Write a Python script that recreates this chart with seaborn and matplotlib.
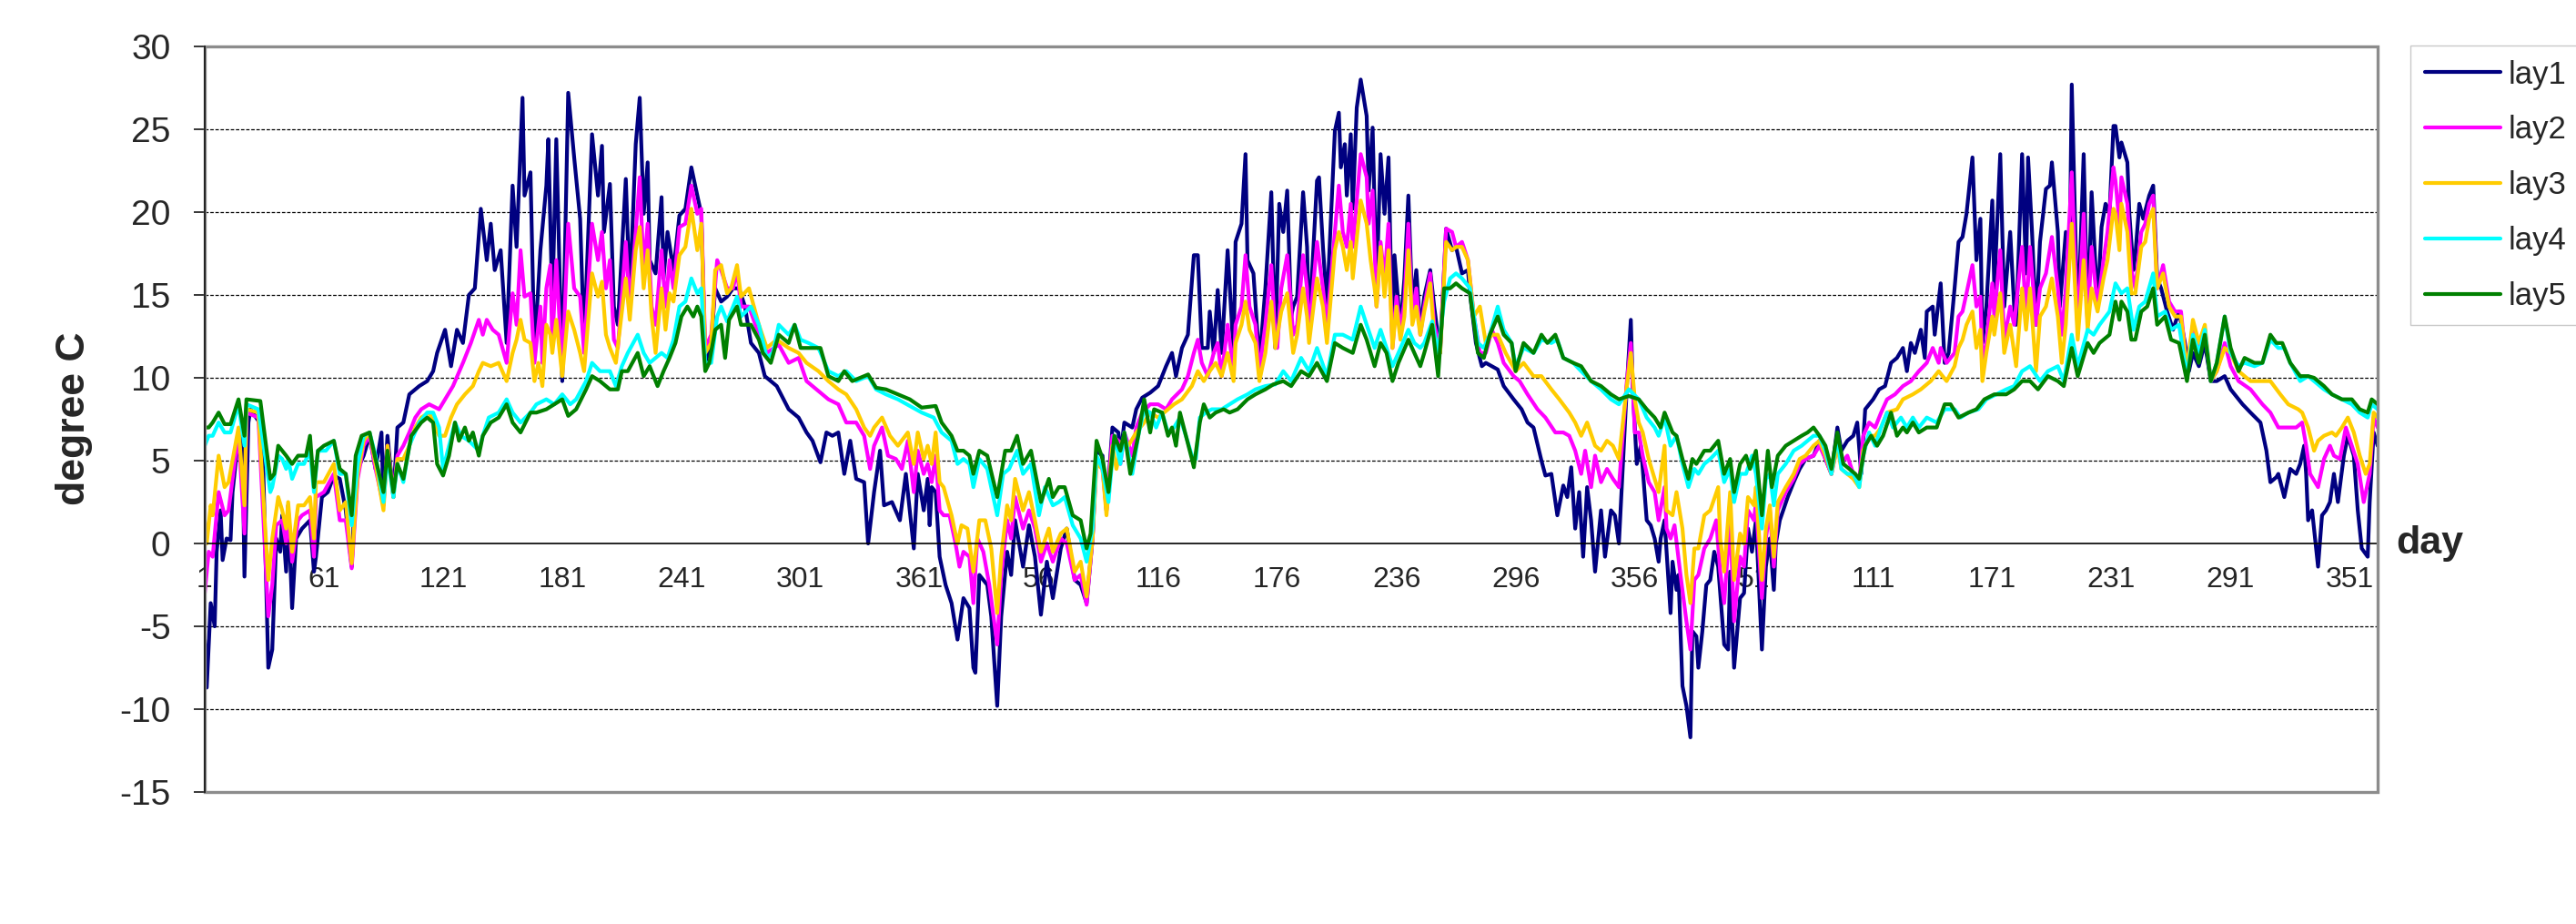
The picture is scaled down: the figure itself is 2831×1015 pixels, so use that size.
import numpy as np
import pandas as pd
import matplotlib
matplotlib.use("Agg")
import matplotlib.pyplot as plt
from matplotlib.patches import Rectangle
import seaborn as sns

# day index (1..1095, three years) and temperature at turning points
lay1_pts = [(1,-5.8),(2,-8.7),(4,-3.6),(6,-5.0),(7,-0.5),(9,2.0),(10,-1.0),(12,0.3),(14,0.2),(15,3.1),(18,6.5),(20,6.2),(21,-2.0),(23,7.3),(24,8.1),(28,7.4),(30,6.7),(33,-7.5),(35,-6.4),(37,0.3),(39,-0.5),(40,1.7),(42,-1.7),(43,2.3),(45,-3.9),(47,0.3),(50,0.9),(54,1.4),(56,-1.7),(57,-0.8),(60,2.8),(63,3.1),(66,4.1),(69,3.9),(72,2.0),(75,-1.4),(77,4.2),(81,5.3),(84,6.5),(87,4.5),(90,6.7),(91,2.5),(93,6.5),(96,2.8),(98,7.0),(101,7.3),(104,9.0),(109,9.5),(113,9.8),(116,10.4),(118,11.5),(122,12.9),(125,10.7),(128,12.9),(131,12.1),(134,15.0),(137,15.4),(140,20.2),(143,17.1),(145,19.3),(147,16.5),(150,17.7),(153,12.1),(156,21.6),(158,17.9),(161,26.9),(162,21.0),(165,22.4),(167,11.5),(170,17.7),(173,21.6),(174,24.4),(176,14.3),(178,24.4),(181,9.8),(184,27.2),(187,23.3),(190,19.6),(192,12.1),(196,24.7),(199,21.0),(201,24.0),(202,18.8),(205,21.7),(207,14.3),(209,13.2),(213,22.0),(215,14.9),(218,24.1),(220,26.9),(222,19.9),(224,23.0),(225,17.1),(228,16.3),(231,20.9),(232,16.0),(234,18.8),(237,16.5),(240,19.8),(243,20.2),(246,22.7),(249,21.0),(251,19.9),(253,10.9),(256,12.1),(258,15.4),(261,14.6),(264,14.9),(267,15.4),(270,15.4),(273,14.3),(276,12.1),(280,11.5),(283,10.1),(289,9.5),(295,8.1),(300,7.6),(304,6.7),(307,6.2),(311,4.9),(314,6.7),(317,6.5),(320,6.7),(323,4.2),(326,6.2),(329,3.9),(333,3.7),(335,0.0),(338,3.1),(341,5.6),(343,2.3),(347,2.5),(351,1.4),(354,4.2),(358,-0.3),(360,4.2),(363,2.0),(365,3.9),(366,1.1),(367,3.4),(369,3.1),(371,-0.8),(374,-2.5),(377,-3.6),(380,-5.8),(383,-3.3),(386,-3.9),(388,-7.5),(389,-7.8),(391,-1.9),(395,-2.5),(397,-4.4),(400,-9.8),(402,-4.4),(405,-0.5),(407,-1.9),(409,1.4),(413,-1.4),(416,1.1),(419,-0.8),(422,-4.3),(425,-1.1),(428,-3.3),(432,-0.3),(435,0.9),(439,-2.2),(442,-2.5),(445,-3.6),(448,0.3),(450,5.6),(453,5.3),(455,2.0),(458,7.0),(461,6.7),(462,5.3),(464,7.3),(468,7.0),(470,8.1),(473,8.8),(477,9.1),(481,9.5),(485,10.7),(488,11.5),(490,10.1),(493,11.8),(496,12.6),(499,17.4),(501,17.4),(503,11.8),(506,11.8),(507,14.0),(509,11.5),(511,15.3),(513,11.5),(516,17.7),(519,11.5),(520,18.2),(523,19.3),(525,23.5),(526,17.1),(529,16.3),(532,10.9),(535,15.4),(538,21.2),(540,11.8),(542,20.5),(544,18.8),(546,21.3),(548,13.7),(549,14.3),(551,14.9),(554,21.2),(556,17.9),(557,12.9),(561,21.9),(562,22.1),(564,17.9),(566,14.3),(570,24.9),(572,26.0),(573,22.7),(575,24.1),(576,21.0),(578,24.7),(579,20.2),(581,26.3),(583,28.0),(586,25.8),(587,21.3),(589,25.1),(591,15.4),(593,23.5),(595,19.9),(597,23.3),(599,12.1),(600,17.4),(603,12.9),(605,16.0),(607,21.0),(609,14.3),(611,16.5),(613,12.9),(615,14.9),(618,16.5),(620,14.3),(623,11.5),(626,19.0),(629,17.7),(631,17.9),(634,16.3),(637,16.5),(638,15.1),(641,12.1),(644,10.7),(646,10.9),(649,10.7),(652,10.5),(655,9.5),(660,8.7),(664,8.1),(667,7.3),(670,7.0),(674,5.0),(676,4.1),(679,4.2),(682,1.7),(685,3.5),(687,2.8),(689,4.6),(691,0.9),(693,3.1),(695,-0.8),(697,3.4),(699,1.4),(701,-1.7),(704,2.0),(706,-0.8),(709,2.0),(711,1.7),(713,0.0),(717,9.5),(719,13.5),(720,9.3),(722,4.8),(724,5.9),(725,4.5),(727,1.4),(729,1.1),(731,0.3),(733,-1.1),(734,0.3),(736,1.4),(737,-0.5),(739,-4.2),(740,-1.1),(742,-2.8),(743,-1.9),(745,-8.6),(747,-9.8),(749,-11.7),(750,-5.3),(752,-5.6),(753,-7.5),(755,-5.3),(757,-2.5),(759,-2.2),(761,-0.5),(763,-1.4),(766,-6.1),(768,-6.4),(769,-1.7),(771,-7.5),(774,-3.3),(776,-3.0),(778,0.9),(780,-0.5),(782,1.4),(785,-6.4),(787,-1.4),(789,0.3),(791,-2.8),(792,0.0),(794,1.4),(798,2.8),(801,3.7),(804,4.5),(807,5.1),(811,5.3),(814,6.2),(817,5.1),(820,4.2),(823,7.0),(825,5.6),(828,6.2),(831,6.5),(833,7.3),(835,4.2),(837,8.1),(841,8.7),(844,9.3),(847,9.5),(850,10.9),(853,11.2),(856,11.8),(858,10.4),(860,12.1),(862,11.5),(865,12.9),(867,11.2),(868,14.0),(871,14.3),(872,12.6),(875,15.7),(877,10.9),(879,11.5),(882,15.4),(884,18.2),(886,18.5),(888,19.9),(891,23.3),(893,17.1),(895,19.6),(896,12.1),(898,14.3),(901,20.7),(902,15.4),(905,23.5),(907,14.3),(910,18.8),(912,14.3),(913,13.2),(916,23.5),(918,16.3),(919,23.3),(921,18.8),(923,13.2),(925,18.2),(928,21.4),(930,21.6),(931,23.0),(934,18.8),(935,14.3),(938,18.8),(940,17.7),(941,27.7),(944,12.9),(947,23.5),(949,13.2),(951,21.2),(954,14.3),(956,19.1),(958,20.5),(960,19.9),(962,25.2),(963,25.2),(965,23.3),(966,24.2),(969,23.0),(970,19.9),(972,16.5),(973,17.4),(975,20.5),(977,19.6),(980,21.0),(982,21.6),(984,16.0),(986,15.4),(989,14.0),(992,12.9),(995,14.0),(998,12.1),(1000,10.4),(1002,11.5),(1005,10.7),(1008,12.1),(1011,9.8),(1014,9.8),(1018,10.1),(1021,9.3),(1027,8.4),(1031,7.9),(1036,7.3),(1039,5.6),(1041,3.7),(1044,4.0),(1045,4.2),(1048,2.8),(1051,4.5),(1054,4.2),(1056,4.8),(1058,5.9),(1059,4.2),(1060,1.4),(1062,2.0),(1065,-1.4),(1067,1.7),(1069,2.0),(1071,2.5),(1073,4.2),(1075,2.5),(1078,5.3),(1080,6.5),(1083,5.3),(1085,2.0),(1087,-0.3),(1090,-0.8),(1091,2.5),(1093,6.7),(1095,5.9)]

lay2_pts = [(1,-3.0),(3,-0.5),(5,-0.8),(8,3.1),(11,1.7),(13,2.0),(18,6.7),(21,0.6),(22,7.9),(28,7.6),(33,-4.4),(35,-2.5),(37,1.1),(40,1.4),(42,0.0),(43,2.0),(45,-1.1),(48,1.4),(50,1.7),(54,2.0),(56,-0.8),(57,2.8),(61,3.1),(66,4.2),(69,1.4),(72,1.4),(75,-1.5),(78,3.9),(81,5.9),(84,6.5),(87,4.5),(91,2.3),(93,5.9),(96,3.1),(98,5.3),(101,5.9),(104,6.7),(107,7.6),(110,8.1),(114,8.4),(119,8.1),(122,8.7),(126,9.5),(131,10.9),(135,12.1),(139,13.5),(141,12.6),(143,13.5),(146,12.9),(149,12.6),(153,10.9),(156,15.1),(158,13.2),(160,17.7),(162,14.9),(165,15.1),(167,10.9),(170,14.3),(171,10.9),(173,15.4),(175,16.8),(176,12.0),(178,17.1),(181,10.4),(184,19.3),(187,15.4),(190,14.9),(192,11.5),(196,19.3),(199,17.1),(201,18.8),(203,15.4),(205,17.1),(207,12.3),(209,11.8),(213,18.2),(215,14.3),(218,18.8),(220,22.1),(222,16.5),(224,19.3),(226,14.3),(228,13.2),(231,17.7),(233,14.3),(235,17.1),(237,15.4),(240,19.1),(243,19.3),(246,21.6),(249,19.9),(251,20.2),(253,11.8),(256,12.6),(259,17.1),(261,16.5),(264,15.4),(267,15.4),(269,16.5),(271,14.3),(275,14.3),(280,12.6),(284,11.5),(290,12.0),(295,10.9),(300,11.2),(304,9.8),(309,9.3),(315,8.7),(320,8.4),(324,7.3),(329,7.3),(333,6.5),(336,4.5),(338,5.9),(342,7.0),(345,5.3),(349,5.1),(352,4.5),(355,6.2),(358,3.1),(360,5.6),(363,4.2),(365,4.8),(367,3.7),(369,5.3),(371,2.0),(373,1.7),(376,1.7),(379,0.0),(381,-1.4),(383,-0.5),(386,-0.8),(388,-3.6),(390,0.3),(393,-0.5),(396,-2.5),(400,-6.1),(402,-1.9),(405,1.4),(407,0.3),(409,2.8),(413,0.9),(416,2.0),(419,0.9),(422,-1.1),(425,0.0),(428,-1.1),(432,0.3),(435,0.0),(439,-2.2),(442,-1.9),(445,-3.7),(448,0.3),(450,5.1),(453,4.5),(455,2.0),(458,6.5),(461,6.2),(462,4.8),(464,6.7),(468,5.3),(470,7.0),(473,7.9),(477,8.4),(481,8.4),(485,8.1),(488,8.7),(493,9.3),(496,10.1),(499,11.5),(501,12.3),(503,10.9),(506,10.1),(509,11.5),(511,12.1),(513,10.1),(516,13.2),(519,10.4),(520,13.2),(523,14.3),(525,17.4),(527,14.3),(530,13.2),(532,10.4),(535,13.2),(538,16.8),(540,12.6),(541,11.8),(543,15.4),(546,17.4),(549,12.6),(551,13.2),(554,17.4),(556,15.4),(557,12.6),(561,18.2),(564,15.4),(566,13.2),(570,18.8),(572,21.6),(574,18.8),(576,17.9),(578,20.5),(579,17.9),(583,23.5),(586,22.1),(587,19.3),(589,21.3),(591,14.3),(593,18.2),(595,16.0),(597,19.3),(599,11.8),(601,14.9),(603,12.9),(605,14.6),(607,19.3),(609,13.7),(611,15.4),(613,12.6),(615,14.3),(618,16.3),(620,13.2),(623,11.8),(626,19.0),(629,18.8),(631,17.9),(634,18.2),(637,17.1),(640,13.7),(643,11.5),(646,11.5),(649,12.9),(652,12.1),(655,10.9),(660,10.1),(663,9.8),(667,9.0),(672,8.1),(676,7.6),(681,6.7),(685,6.7),(688,6.5),(691,5.6),(694,4.2),(696,5.6),(699,3.4),(701,5.3),(704,3.7),(707,4.5),(710,3.9),(713,3.4),(717,9.8),(719,12.1),(721,6.7),(723,6.7),(725,5.3),(728,3.7),(731,3.1),(733,1.4),(736,3.4),(737,0.9),(739,0.3),(741,1.1),(744,-1.9),(747,-4.7),(749,-6.4),(751,-2.2),(753,-1.9),(756,-0.3),(759,0.3),(762,1.4),(764,-1.7),(766,-3.6),(769,1.4),(771,-4.7),(774,-0.8),(776,-1.4),(778,2.0),(781,1.4),(782,2.5),(785,-3.3),(787,0.3),(789,2.0),(791,-1.4),(793,2.0),(797,3.1),(801,3.9),(804,4.8),(807,5.1),(811,5.3),(814,5.9),(817,5.1),(820,4.2),(823,5.9),(825,4.8),(828,5.3),(831,4.2),(834,3.7),(836,6.5),(839,7.3),(842,7.0),(845,7.9),(848,8.7),(852,9.0),(856,9.5),(860,9.8),(864,10.4),(868,10.9),(871,11.8),(874,10.9),(875,11.8),(878,10.9),(882,11.5),(884,13.7),(886,14.0),(888,15.1),(891,16.8),(893,14.3),(895,14.9),(896,10.9),(898,12.1),(901,15.7),(902,13.7),(905,17.7),(907,12.3),(910,14.3),(912,13.2),(916,17.9),(918,13.7),(920,17.9),(923,13.2),(925,15.4),(928,16.3),(931,18.5),(934,15.4),(936,12.6),(938,15.4),(941,22.4),(944,12.9),(947,19.9),(949,13.2),(951,17.9),(954,14.3),(957,17.1),(959,18.8),(962,22.7),(963,21.9),(965,19.3),(966,22.1),(969,20.5),(971,16.5),(973,15.4),(976,18.8),(978,19.3),(980,20.5),(982,21.0),(984,15.4),(987,16.8),(990,14.6),(993,14.0),(996,14.0),(999,10.4),(1002,13.2),(1005,11.5),(1008,12.9),(1011,9.8),(1014,10.4),(1018,12.1),(1021,10.7),(1025,9.8),(1031,9.3),(1037,8.4),(1041,7.9),(1045,7.0),(1049,7.0),(1054,7.0),(1057,7.3),(1059,5.9),(1061,4.2),(1065,3.4),(1068,5.1),(1071,5.9),(1073,5.3),(1076,5.1),(1079,7.0),(1082,5.9),(1085,4.8),(1088,2.5),(1091,4.2),(1093,7.6),(1095,7.0)]

lay3_pts = [(1,1.4),(2,0.0),(4,2.3),(5,1.7),(8,5.3),(11,3.4),(13,3.7),(18,7.0),(21,2.3),(22,8.1),(28,7.9),(33,-2.2),(35,0.3),(38,2.8),(40,2.0),(42,0.9),(43,2.5),(45,-0.5),(48,2.3),(51,2.3),(54,2.8),(56,0.3),(57,3.7),(61,3.7),(66,4.8),(69,2.0),(72,2.5),(75,-1.2),(78,4.2),(81,6.2),(84,6.7),(87,4.8),(91,2.0),(93,5.9),(96,2.8),(98,5.1),(101,5.1),(104,5.9),(107,7.0),(110,7.6),(114,7.9),(119,6.5),(122,6.5),(125,7.6),(128,8.4),(132,9.0),(136,9.5),(139,10.4),(141,10.9),(145,10.7),(149,10.9),(153,9.8),(156,11.5),(158,12.3),(160,13.5),(162,12.3),(165,12.1),(167,9.8),(169,10.9),(171,9.5),(173,13.2),(175,12.6),(176,11.5),(178,13.5),(181,10.1),(184,14.0),(187,12.9),(190,11.5),(192,10.4),(196,16.3),(199,14.9),(201,15.8),(203,12.6),(205,11.8),(208,10.9),(213,16.0),(215,13.5),(218,17.7),(220,19.1),(222,15.4),(224,17.7),(226,13.7),(228,11.5),(231,15.4),(233,12.9),(235,15.1),(237,14.6),(240,17.4),(243,17.9),(246,20.2),(249,17.7),(251,19.3),(253,11.5),(256,12.1),(258,16.5),(261,16.8),(264,15.1),(266,15.4),(269,16.8),(271,14.9),(275,15.4),(280,13.2),(284,11.8),(289,12.3),(295,11.8),(300,11.5),(304,10.9),(310,10.4),(315,9.8),(320,9.3),(324,9.0),(329,8.1),(333,7.0),(336,6.5),(338,7.0),(342,7.6),(346,6.5),(350,5.9),(355,6.7),(358,4.8),(360,6.7),(363,5.1),(365,5.9),(367,4.8),(369,6.7),(371,3.7),(373,3.4),(377,1.7),(380,0.0),(382,1.1),(385,0.9),(388,-1.7),(391,1.4),(394,1.4),(397,-0.3),(400,-4.2),(402,-0.8),(405,2.3),(407,1.4),(409,3.9),(413,2.0),(416,3.1),(419,1.4),(422,-0.5),(426,0.9),(428,-0.5),(432,0.6),(435,0.9),(439,-1.7),(442,-1.1),(445,-3.2),(448,0.3),(450,4.8),(453,4.5),(455,1.7),(458,5.9),(460,4.5),(463,6.2),(466,5.9),(470,6.7),(474,7.3),(477,7.9),(481,7.6),(486,8.1),(489,8.4),(493,8.7),(498,9.5),(501,10.4),(504,9.8),(507,10.4),(510,10.9),(513,10.1),(516,11.5),(519,9.8),(520,12.1),(523,13.2),(525,14.6),(527,12.9),(530,12.1),(532,9.8),(535,11.5),(538,14.6),(540,11.8),(543,14.0),(546,15.1),(549,11.5),(551,12.6),(554,15.4),(556,13.7),(557,12.1),(561,16.0),(564,14.3),(566,12.1),(570,17.7),(572,18.8),(574,17.9),(576,16.5),(578,18.2),(579,16.0),(583,20.7),(586,19.3),(588,17.1),(590,15.4),(591,14.3),(593,17.9),(595,14.9),(597,17.7),(599,11.8),(601,14.3),(603,12.3),(605,13.7),(607,17.7),(609,13.2),(611,14.3),(613,12.6),(615,14.0),(618,15.7),(620,12.6),(623,11.5),(626,18.2),(629,17.7),(631,17.9),(634,17.9),(637,17.1),(640,13.7),(643,14.3),(646,12.1),(649,12.6),(652,12.6),(656,11.5),(661,10.4),(665,10.9),(670,10.1),(674,10.1),(679,9.3),(683,8.7),(688,7.9),(691,7.3),(694,6.5),(697,7.3),(701,5.9),(704,5.6),(707,6.2),(710,5.9),(713,5.1),(717,9.5),(719,11.5),(721,8.7),(723,7.3),(725,6.7),(728,5.1),(731,3.9),(733,3.1),(736,5.9),(737,2.0),(740,1.7),(742,3.1),(745,0.9),(747,-1.9),(749,-3.6),(751,-0.3),(753,-0.3),(756,1.7),(759,2.0),(763,3.4),(764,0.3),(766,-1.7),(769,3.1),(771,-2.2),(774,0.6),(776,0.0),(778,2.8),(781,2.3),(782,3.4),(785,-2.2),(787,0.9),(789,2.3),(791,-0.8),(793,2.5),(797,3.4),(801,4.2),(804,5.1),(807,5.3),(811,5.9),(814,6.2),(817,5.3),(820,4.2),(823,5.9),(825,4.5),(828,4.2),(831,3.9),(834,3.4),(836,5.6),(839,6.5),(842,6.5),(845,7.0),(848,7.9),(853,8.1),(856,8.7),(861,9.0),(865,9.3),(870,9.8),(874,10.4),(878,9.8),(882,10.7),(884,11.8),(886,12.3),(888,13.2),(891,14.0),(893,11.8),(895,12.9),(896,9.8),(898,11.5),(901,13.7),(902,12.6),(905,15.1),(907,11.5),(910,13.2),(913,10.7),(916,15.4),(918,12.9),(920,15.4),(923,10.4),(925,13.7),(928,14.3),(931,16.0),(934,13.7),(936,10.9),(938,13.2),(941,19.3),(944,12.3),(947,17.1),(949,12.9),(951,15.4),(954,14.0),(957,16.0),(959,17.1),(962,20.2),(963,19.9),(965,17.7),(966,20.5),(969,18.8),(971,15.1),(973,15.1),(976,17.9),(978,18.2),(980,19.6),(982,20.2),(984,15.4),(987,16.3),(990,14.3),(993,13.7),(996,13.7),(999,10.4),(1002,13.5),(1005,12.1),(1008,13.2),(1011,9.8),(1014,10.4),(1018,11.8),(1021,11.5),(1025,10.4),(1031,9.8),(1037,9.8),(1041,9.8),(1046,9.0),(1050,8.4),(1055,8.1),(1057,7.9),(1060,7.0),(1063,5.6),(1065,6.2),(1068,6.5),(1072,6.7),(1074,6.5),(1077,7.0),(1080,7.6),(1083,6.7),(1086,5.3),(1089,4.2),(1091,4.8),(1093,7.9),(1095,7.6)]

lay4_pts = [(1,5.9),(3,6.5),(5,6.5),(8,7.3),(11,6.7),(14,6.7),(18,8.4),(21,5.9),(22,8.4),(28,8.1),(34,3.1),(35,3.4),(38,5.3),(40,5.1),(42,4.5),(43,5.1),(45,3.9),(48,4.8),(51,4.8),(54,5.6),(56,3.1),(58,5.6),(62,5.6),(66,6.2),(69,4.2),(72,4.2),(75,1.1),(78,4.8),(81,6.5),(84,6.7),(87,5.3),(91,2.5),(93,5.3),(96,2.8),(98,4.8),(101,3.7),(104,5.9),(109,7.3),(113,7.9),(116,7.9),(119,7.0),(121,4.5),(124,5.9),(127,7.3),(130,6.5),(134,6.2),(139,5.6),(141,6.5),(144,7.6),(149,7.9),(153,8.7),(156,7.9),(160,7.3),(165,7.9),(168,8.4),(173,8.7),(177,8.4),(181,9.0),(185,8.4),(188,8.7),(193,9.8),(196,10.9),(200,10.4),(205,10.4),(208,9.5),(211,10.7),(214,11.5),(219,12.6),(222,11.5),(225,10.9),(228,11.2),(231,11.5),(234,11.2),(237,12.3),(240,14.3),(243,14.6),(246,16.0),(249,15.1),(251,15.4),(253,10.9),(256,10.9),(259,13.7),(261,14.3),(264,13.4),(267,14.3),(269,14.9),(271,13.7),(276,14.3),(280,13.2),(284,11.2),(287,11.5),(290,13.2),(295,12.6),(298,13.2),(301,12.3),(305,12.1),(310,11.8),(315,10.4),(320,10.1),(324,10.4),(329,9.8),(335,10.1),(339,9.3),(344,9.0),(350,8.7),(356,8.3),(362,7.9),(368,7.6),(372,6.7),(377,6.2),(380,4.8),(383,5.1),(386,4.8),(388,3.4),(391,5.1),(395,4.5),(400,1.7),(403,4.2),(406,4.5),(410,5.6),(413,4.2),(417,4.8),(421,1.7),(424,3.4),(428,2.3),(431,2.5),(434,2.8),(438,1.1),(442,0.3),(445,-1.1),(448,0.9),(450,5.3),(453,4.5),(456,2.5),(459,6.5),(462,4.8),(464,6.7),(468,4.2),(471,6.5),(474,8.1),(477,7.9),(480,7.0),(483,7.9),(486,6.7),(489,7.0),(492,7.6),(495,6.5),(498,5.3),(500,5.1),(502,7.6),(505,7.9),(508,8.1),(513,8.1),(517,8.4),(521,8.7),(526,9.0),(530,9.3),(535,9.5),(540,9.6),(544,10.4),(548,9.8),(553,11.2),(557,10.4),(561,11.8),(566,10.1),(570,12.6),(574,12.6),(579,12.3),(583,14.3),(586,13.2),(590,11.8),(593,12.9),(596,11.8),(599,10.7),(602,11.5),(607,12.9),(610,12.1),(613,11.8),(615,12.1),(619,13.4),(622,11.5),(625,14.6),(628,16.0),(631,16.3),(634,16.0),(638,15.4),(642,12.1),(645,11.8),(648,12.6),(652,14.3),(655,12.9),(659,12.1),(661,10.7),(665,11.8),(670,11.5),(674,12.3),(679,12.1),(682,12.3),(685,11.2),(690,10.9),(694,10.4),(699,9.8),(704,9.3),(709,8.7),(713,8.4),(718,9.3),(723,8.7),(727,7.6),(731,7.0),(733,6.5),(736,7.6),(739,5.9),(742,6.5),(745,4.8),(748,3.4),(751,4.5),(753,4.2),(756,4.8),(759,5.1),(763,5.6),(766,3.7),(769,4.5),(771,2.5),(774,4.2),(777,4.2),(780,5.3),(782,4.2),(785,0.9),(787,3.9),(789,4.2),(791,2.3),(793,4.2),(797,4.8),(801,5.6),(805,5.9),(808,6.2),(811,6.5),(814,6.5),(817,5.6),(820,4.2),(823,6.5),(825,4.5),(828,4.2),(831,4.2),(834,3.4),(836,5.3),(839,6.7),(842,5.9),(845,7.0),(848,7.9),(851,7.0),(855,7.6),(858,7.0),(861,7.6),(864,7.0),(868,7.6),(873,7.3),(877,8.1),(882,8.1),(885,7.6),(889,7.9),(894,8.1),(898,8.7),(903,9.0),(908,9.3),(912,9.5),(916,10.4),(920,10.7),(925,9.8),(929,10.4),(934,10.7),(937,9.8),(941,12.6),(944,10.7),(949,12.9),(952,12.6),(955,13.2),(960,14.0),(963,15.7),(966,15.1),(969,15.4),(972,12.9),(975,14.3),(978,14.6),(982,16.3),(984,13.7),(988,14.0),(991,12.9),(995,13.2),(999,10.1),(1002,12.6),(1005,11.5),(1008,12.9),(1011,9.8),(1014,10.9),(1018,13.7),(1021,11.5),(1025,10.7),(1028,10.9),(1033,10.7),(1037,10.9),(1041,12.3),(1045,11.8),(1048,11.8),(1051,10.9),(1056,9.8),(1060,10.1),(1063,9.8),(1068,9.3),(1072,9.0),(1077,8.7),(1082,8.4),(1086,7.9),(1090,7.6),(1092,8.4),(1095,8.1)]

lay5_pts = [(1,7.0),(3,7.0),(5,7.3),(8,7.9),(11,7.2),(14,7.2),(18,8.7),(21,6.5),(22,8.7),(29,8.6),(34,3.9),(36,4.2),(38,5.9),(40,5.6),(42,5.3),(45,4.8),(48,5.3),(52,5.3),(54,6.5),(56,3.4),(58,5.6),(61,5.9),(66,6.2),(69,4.5),(72,4.2),(75,1.7),(77,5.3),(80,6.5),(84,6.7),(87,5.1),(91,3.1),(93,5.6),(96,3.1),(98,4.8),(101,3.9),(105,6.5),(110,7.3),(113,7.6),(116,7.3),(118,4.8),(121,4.1),(124,5.3),(127,7.3),(129,6.2),(132,7.0),(134,6.2),(136,6.7),(139,5.3),(141,6.5),(145,7.3),(149,7.6),(153,8.4),(156,7.3),(160,6.7),(165,7.9),(168,7.9),(173,8.1),(177,8.4),(181,8.7),(184,7.7),(188,8.1),(193,9.3),(196,10.1),(200,9.8),(205,9.3),(209,9.3),(211,10.4),(214,10.4),(219,11.5),(222,10.1),(225,10.7),(229,9.5),(232,10.4),(235,11.2),(238,12.1),(241,13.7),(244,14.3),(247,13.7),(249,14.3),(251,13.7),(253,10.4),(255,10.9),(258,12.9),(261,13.2),(263,11.2),(265,13.5),(269,14.3),(271,13.2),(276,13.2),(280,12.3),(282,11.5),(286,10.9),(290,12.6),(295,12.1),(298,13.2),(301,11.8),(305,11.8),(311,11.8),(315,10.1),(320,9.8),(323,10.4),(327,9.8),(335,10.2),(339,9.4),(344,9.3),(350,9.0),(356,8.7),(362,8.2),(369,8.3),(372,7.3),(377,6.5),(380,5.6),(383,5.6),(386,5.3),(388,4.2),(391,5.6),(395,5.3),(400,2.8),(404,5.6),(407,5.6),(410,6.5),(413,4.8),(417,5.6),(422,2.5),(426,3.9),(428,2.8),(431,3.4),(434,3.4),(438,1.7),(442,1.4),(445,-0.3),(447,0.6),(450,6.2),(453,5.1),(456,3.1),(459,6.5),(462,5.6),(464,6.7),(467,4.2),(471,6.5),(474,8.7),(477,6.7),(479,8.1),(483,7.9),(486,6.5),(488,7.0),(490,5.9),(492,7.9),(495,6.5),(498,5.1),(499,4.6),(502,7.3),(504,8.4),(507,7.6),(510,7.9),(514,8.1),(517,7.9),(521,8.1),(526,8.7),(530,9.0),(535,9.3),(539,9.6),(544,9.8),(548,9.5),(553,10.4),(557,10.1),(561,10.9),(566,9.8),(570,12.1),(574,11.8),(579,11.5),(583,13.2),(586,12.3),(590,10.7),(593,12.1),(596,11.5),(599,9.8),(602,10.9),(607,12.3),(610,11.5),(613,10.7),(615,11.5),(619,13.2),(622,10.1),(625,15.4),(628,15.4),(631,15.7),(634,15.4),(638,15.1),(642,11.5),(645,11.2),(648,12.6),(652,13.7),(655,12.6),(659,12.1),(661,10.4),(665,12.1),(670,11.5),(674,12.6),(677,12.1),(681,12.6),(685,11.2),(690,10.9),(694,10.7),(699,9.8),(704,9.5),(709,9.0),(713,8.7),(718,8.9),(723,8.7),(727,8.1),(731,7.6),(734,7.0),(736,7.9),(740,6.7),(742,6.5),(745,5.1),(748,3.9),(750,5.1),(752,4.8),(756,5.6),(759,5.6),(763,6.2),(766,4.2),(769,5.1),(771,3.1),(774,4.8),(777,5.3),(779,4.5),(782,5.6),(785,1.7),(788,5.6),(790,3.4),(793,5.3),(797,5.9),(801,6.2),(805,6.5),(808,6.7),(811,7.0),(814,6.5),(817,5.9),(820,4.5),(823,6.7),(826,4.8),(829,4.5),(832,4.2),(834,3.9),(837,5.9),(840,6.5),(843,5.9),(846,6.5),(850,7.9),(853,6.5),(856,7.0),(858,6.7),(861,7.3),(864,6.7),(868,7.0),(873,7.0),(877,8.4),(880,8.4),(884,7.6),(889,7.9),(893,8.1),(897,8.7),(902,9.0),(908,9.0),(912,9.3),(916,9.8),(920,9.8),(924,9.3),(929,10.1),(934,9.8),(937,9.5),(941,11.8),(944,10.1),(949,12.1),(952,11.5),(955,12.1),(960,12.6),(963,14.6),(965,13.5),(966,14.6),(969,14.0),(971,12.3),(973,12.3),(976,14.0),(979,14.3),(982,15.4),(984,13.2),(988,13.7),(991,12.3),(995,12.1),(999,9.8),(1002,12.3),(1005,10.9),(1008,12.6),(1011,9.8),(1014,10.9),(1018,13.7),(1021,11.8),(1025,10.4),(1028,11.2),(1033,10.9),(1037,10.9),(1041,12.6),(1044,12.1),(1047,12.1),(1051,10.9),(1056,10.1),(1060,10.1),(1063,10.0),(1068,9.5),(1072,9.0),(1077,8.7),(1082,8.7),(1086,8.1),(1090,7.9),(1092,8.7),(1095,8.4)]

layers = ["lay1", "lay2", "lay3", "lay4", "lay5"]
colors = ["#000080", "#FF00FF", "#FFCC00", "#00FFFF", "#008000"]
xtick_labels = ["1", "61", "121", "181", "241", "301", "361", "56", "116", "176",
                "236", "296", "356", "51", "111", "171", "231", "291", "351"]
n_days = 1095

# long-form table for seaborn
frames = []
for name, pts in zip(layers, [lay1_pts, lay2_pts, lay3_pts, lay4_pts, lay5_pts]):
    d = pd.DataFrame(pts, columns=["day", "temp"])
    d["layer"] = name
    frames.append(d)
df = pd.concat(frames, ignore_index=True)

sns.set_style("white")
plt.rcParams["font.family"] = ["Liberation Sans", "DejaVu Sans"]
plt.rcParams["axes.unicode_minus"] = False

W, H = 2831, 1015
fig = plt.figure(figsize=(W / 100, H / 100), dpi=100)
ax = fig.add_axes([225 / W, 1 - 870 / H, (2613 - 225) / W, (870 - 51) / H])

sns.lineplot(data=df, x="day", y="temp", hue="layer", hue_order=layers,
             palette=dict(zip(layers, colors)), estimator=None, linewidth=3.0,
             ax=ax, legend=True)

ax.set_xlim(1, n_days)
ax.set_ylim(-15, 30)
ax.set_yticks(np.arange(-15, 31, 5))
for v in np.arange(-15, 31, 5):
    if v != 0:
        ax.axhline(v, color="black", lw=0.9, ls=(0, (3, 1.5)), zorder=0)

# category axis crosses at 0
ax.spines["bottom"].set_position(("data", 0))
ax.spines["bottom"].set_color("black")
ax.spines["bottom"].set_linewidth(1.2)
ax.spines["top"].set_visible(False)
ax.spines["right"].set_visible(False)
ax.add_patch(Rectangle((0, 0), 1, 1, transform=ax.transAxes, fill=False,
                       edgecolor="#8c8c8c", lw=2.4, clip_on=False, zorder=3))
ax.spines["left"].set_color("#222222")
ax.spines["left"].set_linewidth(1.4)
ax.spines["left"].set_zorder(4)

ax.set_xticks(np.arange(1, n_days, 60))
ax.set_xticklabels(xtick_labels)
ax.tick_params(axis="x", direction="out", length=6, width=1.1, color="black",
               labelsize=23, pad=12)
ax.tick_params(axis="y", direction="out", length=9, width=1.1, color="black",
               labelsize=28, pad=18, left=True)
ax.set_xlabel("")
ax.set_ylabel("")

fig.text(81 / W, 1 - 460 / H, "degree C", rotation=90, ha="center", va="center",
         fontsize=32, fontweight="bold")
ax.annotate("day", xy=(1, 0), xycoords=("axes fraction", "data"),
            xytext=(20, 0), textcoords="offset pixels", ha="left", va="center",
            fontsize=31, fontweight="bold")

handles, labels = ax.get_legend_handles_labels()
for h in handles:
    h.set_linewidth(3.0)
ax.legend(handles, labels, loc="upper left",
          bbox_to_anchor=(2649 / W, 1 - 50 / H), bbox_transform=fig.transFigure,
          frameon=True, fancybox=False, edgecolor="#c8c8c8", framealpha=1,
          fontsize=25, handlelength=2.4, handletextpad=0.25, labelspacing=0.8,
          borderpad=0.45, borderaxespad=0)

fig.savefig("out.png", dpi=100)
